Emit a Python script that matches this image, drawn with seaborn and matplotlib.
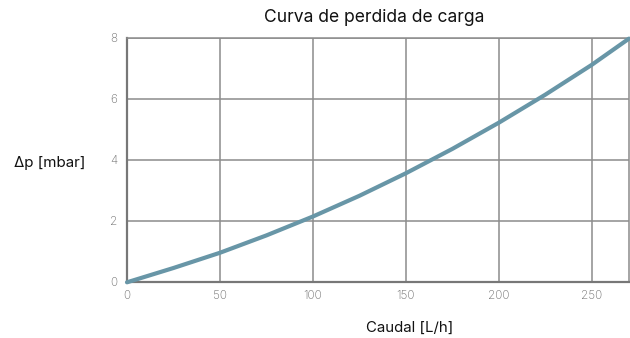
import matplotlib
matplotlib.use("Agg")
import matplotlib.pyplot as plt
import seaborn as sns
import pandas as pd

# Pressure-loss curve: flow rate [L/h] vs. pressure drop [mbar]
caudal = [0, 25, 50, 75, 100, 125, 150, 175, 200, 225, 250, 270]
delta_p = [-0.02, 0.45, 0.95, 1.52, 2.14, 2.82, 3.56, 4.36, 5.22, 6.14, 7.12, 7.98]
x_ticks = [0, 50, 100, 150, 200, 250]
y_ticks = [0, 2, 4, 6, 8]

df = pd.DataFrame({"caudal": caudal, "delta_p": delta_p})

sns.set_style("white")
plt.rcParams["font.family"] = ["Inter", "DejaVu Sans"]

fig = plt.figure(figsize=(6.3, 3.38), dpi=100)
ax = fig.add_axes([127 / 630, 1 - 281.7 / 338, (629 - 127) / 630, (281.7 - 38) / 338])

sns.lineplot(data=df, x="caudal", y="delta_p", ax=ax, color="#6896a7",
             linewidth=3.0, zorder=3, clip_on=False)

ax.set_xlim(0, 270)
ax.set_ylim(0, 8)
ax.set_xticks(x_ticks)
ax.set_yticks(y_ticks)
ax.grid(True, color="#8c8c8c", linewidth=1.1)
for s in ax.spines.values():
    s.set_color("#8c8c8c")
    s.set_linewidth(1.1)
ax.spines["left"].set_color("#777777")
ax.spines["bottom"].set_color("#777777")
ax.spines["left"].set_linewidth(1.6)
ax.spines["bottom"].set_linewidth(1.6)
ax.tick_params(axis="both", length=0, labelsize=8.5, labelcolor="#6e6e6e")
ax.tick_params(axis="y", pad=7)
ax.tick_params(axis="x", pad=6)
for lbl in ax.get_xticklabels() + ax.get_yticklabels():
    lbl.set_fontweight("light")
ax.set_xlabel("")
ax.set_ylabel("")

fig.text(374 / 630, 1 - 18 / 338, "Curva de perdida de carga", ha="center", va="center",
         fontsize=12.6, color="#111111")
fig.text(50 / 630, 1 - 163 / 338, "Δp [mbar]", ha="center", va="center",
         fontsize=10.9, color="#111111")
fig.text(410 / 630, 1 - 328 / 338, "Caudal [L/h]", ha="center", va="center",
         fontsize=10.8, color="#111111")

fig.savefig("out.png", dpi=100)
